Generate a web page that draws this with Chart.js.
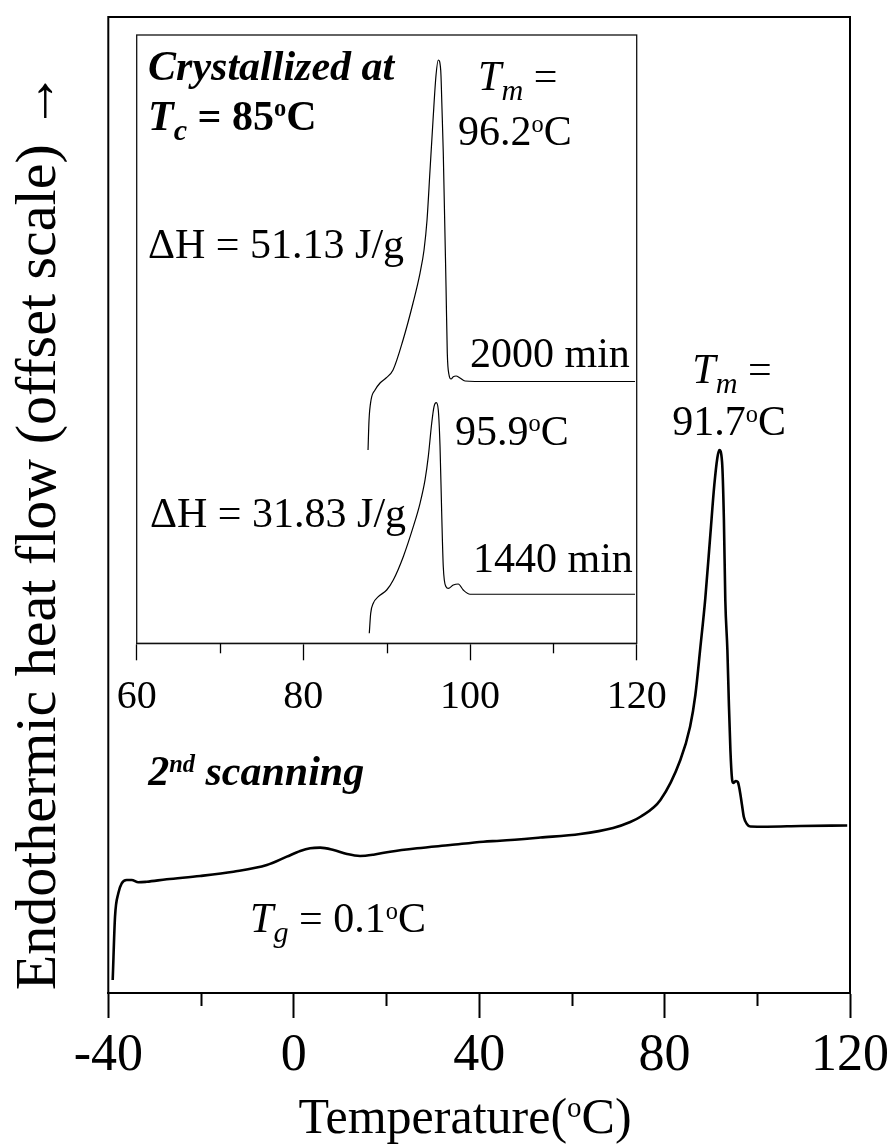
<!DOCTYPE html>
<html><head><meta charset="utf-8">
<script src="https://cdn.jsdelivr.net/npm/chart.js@4.4.1/dist/chart.umd.min.js"></script>
<style>
html,body{margin:0;padding:0;background:#fff;}
#wrap{position:relative;width:893px;height:1146px;overflow:hidden;}
canvas{position:absolute;left:0;top:0;}
</style></head><body>
<div id="wrap"><canvas id="main" width="893" height="1146"></canvas><canvas id="inset" width="893" height="1146"></canvas></div>
<script>
// ---- data ----
const mainTemp = [-39.05,-38.55,-37.84,-37.11,-36.03,-34.95,-33.52,-31.71,-27.4,-20.2,-13.0,-5.8,-1.5,1.4,3.55,5.7,8.6,11.5,14.3,17.2,20.8,26.6,33.75,40.9,44.5,53.2,61.8,68.9,72.6,74.8,79.1,83.4,85.5,86.64,87.71,88.79,89.87,90.73,91.38,91.8,92.4,92.8,93.1,93.55,93.85,94.2,94.55,94.8,95.4,95.8,96.2,96.7,97.1,97.75,98.5,102.1,109.3,119.4];
const mainFlow = [1.33,7.82,10.22,11.24,11.58,11.58,11.34,11.40,11.65,11.99,12.43,13.11,13.97,14.55,14.83,14.89,14.65,14.24,14.04,14.17,14.48,14.83,15.16,15.50,15.60,15.93,16.29,16.91,17.52,18.06,19.77,23.87,27.28,30.53,35.35,40.47,46.93,52.05,54.82,55.64,54.41,48.46,40.27,35.14,30.02,24.9,21.93,21.52,21.72,21.62,20.8,19.26,18.03,17.32,17.06,17.04,17.11,17.16];

const temp2000 = [87.76,87.88,88.12,88.6,89.2,89.92,90.76,91.96,93.16,94.0,94.48,94.84,95.2,95.56,95.92,96.19,96.48,96.64,96.79,97.12,97.27,97.48,97.72,97.99,98.32,98.8,99.4,100.6,119.8];
const flow2000 = [31.78,36.71,40.0,41.64,42.79,43.61,44.93,49.86,55.94,60.87,64.66,69.59,77.81,86.03,93.42,95.89,94.25,87.67,80.6,58.57,47.72,44.11,43.45,43.83,43.94,43.61,43.12,43.04,43.04];

const temp1440 = [87.91,88.08,88.39,88.99,90.0,90.79,91.99,93.19,94.0,94.6,94.99,95.4,95.68,95.95,96.19,96.4,96.6,96.79,97.12,97.39,97.99,98.59,99.19,100.0,119.8];
const flow1440 = [1.64,4.93,6.58,7.66,8.76,10.41,14.24,19.17,23.02,26.85,30.68,36.17,38.9,39.55,38.35,32.32,21.37,12.59,9.3,9.04,9.58,9.75,8.76,8.06,8.06];

const mainMajorTicks = [-40, 0, 40, 80, 120];
const mainMinorTicks = [-20, 20, 60, 100];
const insetMajorTicks = [60, 80, 100, 120];
const insetMinorTicks = [70, 90, 110];

const xTitleParts = [['Temperature(', ''], ['o', '^'], ['C)', '']];
const yTitle = 'Endothermic heat flow (offset scale) \u2192';

// annotations: anchor in data coordinates, text parts with style flags
const mainNotes = [
  {x: 85.99, y: 62.5, parts: [['T','i'],['m','i_'],[' =','']]},
  {x: 81.67, y: 57.17, parts: [['91.7',''],['o','^'],['C','']]},
  {x: -31.4, y: 21.31, parts: [['2','bi'],['nd','bi^'],[' scanning','bi']]},
  {x: -9.42, y: 6.25, parts: [['T','i'],['g','i_'],[' = 0.1',''],['o','^'],['C','']]}
];
const insetNotes = [
  {x: 61.36, y: 92.6, parts: [['Crystallized at','bi']]},
  {x: 61.36, y: 84.4, parts: [['T','bi'],['c','bi_'],[' = 85','b'],['o','b^'],['C','b']]},
  {x: 61.36, y: 63.33, parts: [['\u0394H = 51.13 J/g','']]},
  {x: 61.6, y: 19.12, parts: [['\u0394H = 31.83 J/g','']]},
  {x: 100.0, y: 45.42, parts: [['2000 min','']]},
  {x: 100.36, y: 11.72, parts: [['1440 min','']]},
  {x: 100.96, y: 90.96, parts: [['T','i'],['m','i_'],[' =','']]},
  {x: 98.56, y: 81.92, parts: [['96.2',''],['o','^'],['C','']]},
  {x: 98.2, y: 32.62, parts: [['95.9',''],['o','^'],['C','']]}
];

// ---- helpers ----
const FONT = "'Liberation Serif','Times New Roman',serif";
function richFont(f, size) {
  const small = f.includes('_') ? 0.72 : (f.includes('^') ? 0.58 : 1);
  const s = size * small;
  return {font: (f.includes('i') ? 'italic ' : '') + (f.includes('b') ? 'bold ' : '') + s.toFixed(1) + 'px ' + FONT,
          dy: f.includes('_') ? size * 0.24 : (f.includes('^') ? -size * 0.32 : 0)};
}
function richWidth(ctx, parts, size) {
  let w = 0;
  for (const [t, f] of parts) { ctx.font = richFont(f, size).font; w += ctx.measureText(t).width; }
  return w;
}
function drawRich(ctx, x, y, parts, size) {
  let cx = x;
  ctx.textBaseline = 'alphabetic'; ctx.textAlign = 'left'; ctx.fillStyle = '#000';
  for (const [t, f] of parts) {
    const r = richFont(f, size);
    ctx.font = r.font;
    ctx.fillText(t, cx, y + r.dy);
    cx += ctx.measureText(t).width;
  }
}
function drawTicks(chart, values, len, width) {
  const ctx = chart.ctx, xs = chart.scales.x, b = chart.chartArea.bottom;
  ctx.save(); ctx.strokeStyle = '#000'; ctx.lineWidth = width;
  for (const v of values) {
    const px = Math.round(xs.getPixelForValue(v)) + 0.5;
    ctx.beginPath(); ctx.moveTo(px, b); ctx.lineTo(px, b + len); ctx.stroke();
  }
  ctx.restore();
}

const mainPlugin = {
  id: 'mainDecor',
  beforeDraw(chart) {
    const ctx = chart.ctx; ctx.save(); ctx.fillStyle = '#fff'; ctx.fillRect(0, 0, chart.width, chart.height); ctx.restore();
  },
  afterDraw(chart) {
    const ctx = chart.ctx, a = chart.chartArea, xs = chart.scales.x, ys = chart.scales.y;
    ctx.save();
    ctx.strokeStyle = '#000'; ctx.lineWidth = 2;
    ctx.strokeRect(a.left, a.top, a.right - a.left, a.bottom - a.top);
    ctx.restore();
    drawTicks(chart, mainMinorTicks, 13, 2);
    // x title
    ctx.save();
    const w = richWidth(ctx, xTitleParts, 50);
    drawRich(ctx, 465 - w / 2, 1133, xTitleParts, 50);
    // y title
    ctx.translate(55, 531); ctx.rotate(-Math.PI / 2);
    ctx.font = '58px ' + FONT; ctx.textAlign = 'center'; ctx.textBaseline = 'alphabetic'; ctx.fillStyle = '#000';
    ctx.fillText(yTitle, 0, 0);
    ctx.restore();
    for (const n of mainNotes) drawRich(ctx, xs.getPixelForValue(n.x), ys.getPixelForValue(n.y), n.parts, 42);
  }
};
const insetPlugin = {
  id: 'insetDecor',
  afterDraw(chart) {
    const ctx = chart.ctx, a = chart.chartArea, xs = chart.scales.x, ys = chart.scales.y;
    ctx.save();
    ctx.strokeStyle = '#111'; ctx.lineWidth = 1.3;
    ctx.strokeRect(a.left, a.top, a.right - a.left, a.bottom - a.top);
    ctx.restore();
    drawTicks(chart, insetMinorTicks, 10, 1.3);
    for (const n of insetNotes) drawRich(ctx, xs.getPixelForValue(n.x), ys.getPixelForValue(n.y), n.parts, 42);
  }
};

const toPts = (xs, ys) => xs.map((x, i) => ({x, y: ys[i]}));

new Chart(document.getElementById('main'), {
  type: 'line',
  data: {datasets: [{data: toPts(mainTemp, mainFlow), borderColor: '#000', borderWidth: 2.6, pointRadius: 0, cubicInterpolationMode: 'monotone', fill: false}]},
  options: {
    responsive: false, animation: false, devicePixelRatio: 1,
    layout: {padding: {left: 108.3, top: 17, right: 43, bottom: 0}},
    plugins: {legend: {display: false}, tooltip: {enabled: false}},
    scales: {
      x: {type: 'linear', min: -40, max: 120,
          afterBuildTicks: s => { s.ticks = mainMajorTicks.map(v => ({value: v})); },
          afterFit: s => { s.height = 153; s.paddingLeft = 0; s.paddingRight = 0; },
          ticks: {font: {family: FONT, size: 52}, color: '#000', padding: 7, maxRotation: 0, autoSkip: false},
          grid: {display: true, drawOnChartArea: false, drawTicks: true, tickLength: 25, tickWidth: 2, tickColor: '#000', color: '#000'},
          border: {display: true, color: '#000', width: 2}},
      y: {type: 'linear', min: 0, max: 100, display: false}
    }
  },
  plugins: [mainPlugin]
});

new Chart(document.getElementById('inset'), {
  type: 'line',
  data: {datasets: [
    {data: toPts(temp2000, flow2000), borderColor: '#000', borderWidth: 1.2, pointRadius: 0, cubicInterpolationMode: 'monotone', fill: false},
    {data: toPts(temp1440, flow1440), borderColor: '#000', borderWidth: 1.2, pointRadius: 0, cubicInterpolationMode: 'monotone', fill: false}
  ]},
  options: {
    responsive: false, animation: false, devicePixelRatio: 1,
    layout: {padding: {left: 136.7, top: 35, right: 256.3, bottom: 0}},
    plugins: {legend: {display: false}, tooltip: {enabled: false}},
    scales: {
      x: {type: 'linear', min: 60, max: 120,
          afterBuildTicks: s => { s.ticks = insetMajorTicks.map(v => ({value: v})); },
          afterFit: s => { s.height = 1146 - 643.3; s.paddingLeft = 0; s.paddingRight = 0; },
          ticks: {font: {family: FONT, size: 40}, color: '#000', padding: 13, maxRotation: 0, autoSkip: false},
          grid: {display: true, drawOnChartArea: false, drawTicks: true, tickLength: 17, tickWidth: 1.3, tickColor: '#000', color: '#000'},
          border: {display: true, color: '#000', width: 1.3}},
      y: {type: 'linear', min: 0, max: 100, display: false}
    }
  },
  plugins: [insetPlugin]
});
</script>
</body></html>
